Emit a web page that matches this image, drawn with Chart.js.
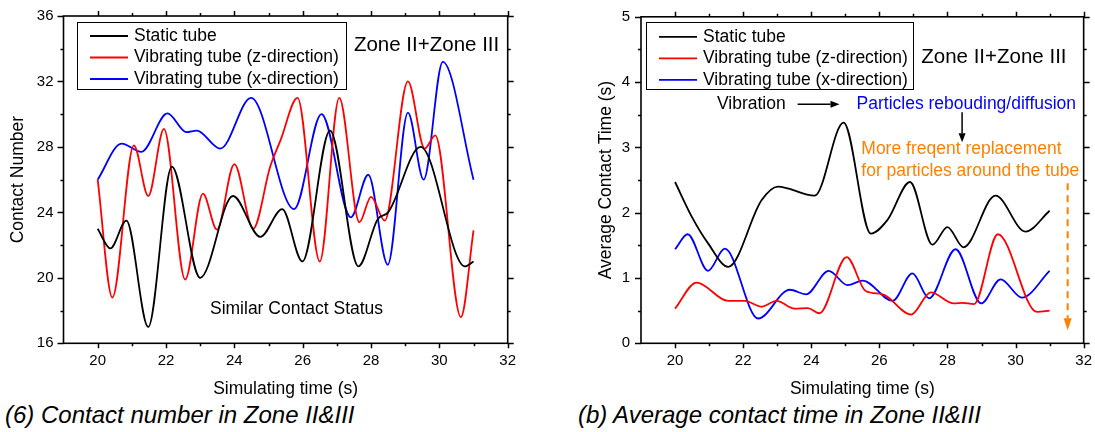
<!DOCTYPE html>
<html><head><meta charset="utf-8">
<script src="https://cdn.jsdelivr.net/npm/chart.js@4.4.1/dist/chart.umd.min.js"></script>
<style>
html,body{margin:0;padding:0;background:#fff;width:1095px;height:432px;overflow:hidden;position:relative;}
#c1{position:absolute;left:0;top:0;width:545px;height:400px;}
#c2{position:absolute;left:545px;top:0;width:550px;height:400px;}
.cap{position:absolute;font:italic 24px "Liberation Sans",Arial,sans-serif;line-height:24px;white-space:nowrap;color:#000;}
</style></head><body>
<canvas id="c1" width="545" height="400"></canvas>
<canvas id="c2" width="550" height="400"></canvas>
<div class="cap" style="left:5px;top:403px">(6) Contact number in Zone II&amp;III</div>
<div class="cap" style="left:578px;top:403px">(b) Average contact time in Zone II&amp;III</div>
<script>
// ---------- Data: (6) Contact number ----------
const seriesLabels = ['Static tube', 'Vibrating tube (z-direction)', 'Vibrating tube (x-direction)'];
const seriesColors = ['#000000', '#ff0000', '#0000ff'];

const cnStaticT = [20, 20.37, 20.84, 21.48, 22.17, 23.0, 23.96, 24.76, 25.4, 25.99, 26.8, 27.63, 28.2, 28.5, 29.45, 30.75, 31.0];
const cnStaticV = [23, 21.8, 23.5, 17.0, 26.8, 20.0, 25.0, 22.5, 24.2, 21.0, 29.0, 20.7, 23.6, 24.0, 28.0, 20.7, 21.0];

const cnZT = [20, 20.43, 21.06, 21.48, 21.94, 22.56, 23.08, 23.49, 24.0, 24.55, 25.05, 25.35, 25.85, 26.5, 27.07, 27.66, 28.0, 28.4, 29.08, 29.57, 29.88, 30.63, 31.0];
const cnZV = [26, 18.8, 28.1, 25.0, 29.1, 19.9, 25.15, 22.95, 26.95, 23.0, 26.8, 28.4, 31.0, 21.0, 31.0, 23.4, 24.95, 23.5, 32.0, 27.9, 28.7, 17.6, 22.9];

const cnXT = [20, 20.7, 21.28, 22.04, 22.6, 22.9, 23.59, 24.49, 25.75, 26.55, 27.41, 27.92, 28.49, 29.08, 29.54, 30.1, 31.0];
const cnXV = [26, 28.2, 27.7, 30.05, 28.9, 29.0, 27.9, 31.0, 24.2, 30.0, 23.7, 26.3, 20.8, 30.1, 26.0, 33.2, 26.0];

// ---------- Data: (b) Average contact time ----------
const ctStaticT = [20, 20.49, 20.97, 21.56, 22.54, 23.02, 24.1, 24.95, 25.75, 26.24, 26.9, 27.56, 28.0, 28.47, 29.41, 30.29, 31.0];
const ctStaticV = [2.47, 1.94, 1.53, 1.17, 2.19, 2.40, 2.26, 3.38, 1.68, 1.89, 2.47, 1.51, 1.78, 1.47, 2.26, 1.71, 2.03];

const ctZT = [20, 20.63, 21.56, 22.05, 22.54, 22.98, 23.51, 23.9, 24.24, 25.04, 25.6, 26.1, 26.93, 27.51, 28.19, 28.44, 28.78, 29.48, 30.63, 31.0];
const ctZV = [0.53, 0.93, 0.65, 0.65, 0.56, 0.65, 0.53, 0.54, 0.46, 1.32, 0.80, 0.75, 0.44, 0.78, 0.61, 0.62, 0.60, 1.67, 0.48, 0.50];

const ctXT = [20, 20.37, 20.97, 21.46, 22.44, 23.37, 23.85, 24.51, 25.07, 25.51, 26.39, 26.97, 27.46, 28.24, 28.99, 29.56, 30.19, 31.0];
const ctXV = [1.44, 1.67, 1.11, 1.45, 0.38, 0.82, 0.75, 1.11, 0.89, 0.96, 0.65, 1.07, 0.69, 1.44, 0.61, 0.98, 0.70, 1.11];

// ---------- Axes ----------
const xMin = 19, xMax = 32, xStep = 1, xLabelStep = 2;
const cnYMin = 16, cnYMax = 36, cnYStep = 2, cnYLabelStep = 4;
const ctYMin = 0, ctYMax = 5, ctYStep = 0.5, ctYLabelStep = 1;

const FONT = '"Liberation Sans", Arial, Helvetica, sans-serif';

function pts(t, v) { return t.map((x, i) => ({x: x, y: v[i]})); }
function mkDatasets(list) {
  return list.map((d, i) => ({
    label: seriesLabels[i], data: pts(d[0], d[1]),
    borderColor: seriesColors[i], backgroundColor: seriesColors[i],
    borderWidth: 1.8, pointRadius: 0, cubicInterpolationMode: 'monotone', fill: false
  }));
}
function isMul(v, base, step) { const r = (v - base) / step; return Math.abs(r - Math.round(r)) < 1e-6; }

const frameTicks = {
  id: 'frameTicks',
  afterDatasetsDraw(chart, args, o) {
    const ctx = chart.ctx, a = chart.chartArea, xs = chart.scales.x, ys = chart.scales.y;
    ctx.save();
    ctx.strokeStyle = '#000'; ctx.lineWidth = 1.5;
    ctx.beginPath();
    xs.ticks.forEach(t => {
      const v = t.value; if (v <= xMin + 1e-9) return;
      const p = Math.round(xs.getPixelForValue(v)) + 0.5;
      const len = isMul(v, 0, xLabelStep) ? 5 : 3;
      ctx.moveTo(p, a.bottom); ctx.lineTo(p, a.bottom + len);
      ctx.moveTo(p, a.top); ctx.lineTo(p, a.top - len);
    });
    ys.ticks.forEach(t => {
      const v = t.value;
      const p = Math.round(ys.getPixelForValue(v)) + 0.5;
      const len = isMul(v, o.yBase, o.yLabelStep) ? 6 : 3;
      ctx.moveTo(a.left, p); ctx.lineTo(a.left - len, p);
      ctx.moveTo(a.right, p); ctx.lineTo(a.right + len, p);
    });
    ctx.stroke();
    ctx.lineWidth = 1.6;
    ctx.strokeRect(a.left, a.top, a.right - a.left, a.bottom - a.top);

    // legend box
    const L = o.legend, bx = a.left + L.dx, by = a.top + L.dy;
    ctx.lineWidth = 1; ctx.strokeStyle = '#000';
    ctx.strokeRect(Math.round(bx) + 0.5, Math.round(by) + 0.5, L.w, L.h);
    ctx.font = '17.5px ' + FONT; ctx.textBaseline = 'middle'; ctx.textAlign = 'left';
    chart.data.datasets.forEach((ds, i) => {
      const yy = by + L.rows[i];
      ctx.strokeStyle = ds.borderColor; ctx.lineWidth = 1.8;
      ctx.beginPath(); ctx.moveTo(bx + 13, yy); ctx.lineTo(bx + 51, yy); ctx.stroke();
      ctx.fillStyle = '#000'; ctx.fillText(ds.label, bx + 57, yy);
    });

    // text annotations
    (o.texts || []).forEach(tx => {
      ctx.font = (tx.size || 17.5) + 'px ' + FONT;
      ctx.fillStyle = tx.color || '#000';
      ctx.textAlign = tx.align || 'left'; ctx.textBaseline = 'middle';
      ctx.fillText(tx.text, xs.getPixelForValue(tx.x), ys.getPixelForValue(tx.y));
    });
    // arrows
    (o.arrows || []).forEach(ar => {
      const x1 = xs.getPixelForValue(ar.x1), y1 = ys.getPixelForValue(ar.y1);
      const x2 = xs.getPixelForValue(ar.x2), y2 = ys.getPixelForValue(ar.y2);
      const ang = Math.atan2(y2 - y1, x2 - x1), hl = ar.head || 9, hw = ar.hw || 3.5;
      ctx.strokeStyle = ar.color; ctx.fillStyle = ar.color; ctx.lineWidth = ar.width || 1.5;
      ctx.setLineDash(ar.dash || []);
      ctx.beginPath(); ctx.moveTo(x1, y1);
      ctx.lineTo(x2 - Math.cos(ang) * hl, y2 - Math.sin(ang) * hl); ctx.stroke();
      ctx.setLineDash([]);
      ctx.beginPath(); ctx.moveTo(x2, y2);
      ctx.lineTo(x2 - Math.cos(ang) * hl - Math.sin(ang) * hw, y2 - Math.sin(ang) * hl + Math.cos(ang) * hw);
      ctx.lineTo(x2 - Math.cos(ang) * hl + Math.sin(ang) * hw, y2 - Math.sin(ang) * hl - Math.cos(ang) * hw);
      ctx.closePath(); ctx.fill();
    });
    ctx.restore();
  }
};

function mkOptions(cfg) {
  return {
    responsive: false, animation: false, devicePixelRatio: 1,
    layout: { padding: cfg.padding },
    plugins: { legend: { display: false }, tooltip: { enabled: false }, frameTicks: cfg.frame },
    scales: {
      x: {
        type: 'linear', min: xMin, max: xMax,
        afterFit: s => { s.height = cfg.xHeight; },
        grid: { display: true, drawOnChartArea: false, drawTicks: true, tickLength: 6, color: 'rgba(0,0,0,0)' },
        border: { display: false },
        ticks: { stepSize: xStep, autoSkip: false, maxRotation: 0, padding: 3, color: '#000',
          font: { family: FONT, size: 15 },
          callback: v => (v >= 20 && isMul(v, 0, xLabelStep)) ? String(v) : '' },
        title: { display: true, text: 'Simulating time (s)', color: '#000', padding: 0,
          font: { family: FONT, size: 17.5 } }
      },
      y: {
        type: 'linear', min: cfg.yMin, max: cfg.yMax,
        afterFit: s => { s.width = cfg.yWidth; },
        grid: { display: true, drawOnChartArea: false, drawTicks: true, tickLength: 6, color: 'rgba(0,0,0,0)' },
        border: { display: false },
        ticks: { stepSize: cfg.yStep, autoSkip: false, padding: cfg.yPad, color: '#000',
          font: { family: FONT, size: 15 },
          callback: v => isMul(v, cfg.yMin, cfg.yLabelStep) ? String(v) : '' },
        title: { display: true, text: cfg.yTitle, color: '#000', padding: 0,
          font: { family: FONT, size: 17.5 } }
      }
    }
  };
}

new Chart(document.getElementById('c1'), {
  type: 'line',
  data: { datasets: mkDatasets([[cnStaticT, cnStaticV], [cnZT, cnZV], [cnXT, cnXV]]) },
  options: mkOptions({
    padding: { left: 8, top: 16, right: 37.3, bottom: 0.5 },
    xHeight: 56.2, yWidth: 55.5, yPad: 4,
    yMin: cnYMin, yMax: cnYMax, yStep: cnYStep, yLabelStep: cnYLabelStep,
    yTitle: 'Contact Number',
    frame: {
      yBase: cnYMin, yLabelStep: cnYLabelStep,
      legend: { dx: 13.5, dy: 6, w: 269, h: 67, rows: [14, 35.5, 57] },
      texts: [
        { text: 'Zone II+Zone III', x: 27.5, y: 34.2, size: 20.5 },
        { text: 'Similar Contact Status', x: 25.82, y: 18.1, align: 'center' }
      ]
    }
  }),
  plugins: [frameTicks]
});

new Chart(document.getElementById('c2'), {
  type: 'line',
  data: { datasets: mkDatasets([[ctStaticT, ctStaticV], [ctZT, ctZV], [ctXT, ctXV]]) },
  options: mkOptions({
    padding: { left: 50.5, top: 16.8, right: 10, bottom: 0.5 },
    xHeight: 56.2, yWidth: 45.5, yPad: 5,
    yMin: ctYMin, yMax: ctYMax, yStep: ctYStep, yLabelStep: ctYLabelStep,
    yTitle: 'Average Contact Time (s)',
    frame: {
      yBase: ctYMin, yLabelStep: ctYLabelStep,
      legend: { dx: 5, dy: 5, w: 267, h: 67, rows: [15, 36.5, 58] },
      texts: [
        { text: 'Zone II+Zone III', x: 27.23, y: 4.38, size: 20.5 },
        { text: 'Vibration', x: 21.23, y: 3.66 },
        { text: 'Particles rebouding/diffusion', x: 25.33, y: 3.66, color: '#0000ff' },
        { text: 'More freqent replacement', x: 25.47, y: 2.975, color: '#ff8000' },
        { text: 'for particles around the tube', x: 25.47, y: 2.64, color: '#ff8000' }
      ],
      arrows: [
        { x1: 23.6, y1: 3.66, x2: 24.83, y2: 3.66, color: '#000', width: 1.5 },
        { x1: 28.43, y1: 3.54, x2: 28.43, y2: 3.08, color: '#000', width: 1.5 },
        { x1: 31.53, y1: 2.45, x2: 31.53, y2: 0.2, color: '#ff8000', width: 2, dash: [7, 5], head: 12, hw: 4 }
      ]
    }
  }),
  plugins: [frameTicks]
});
</script>
</body></html>
